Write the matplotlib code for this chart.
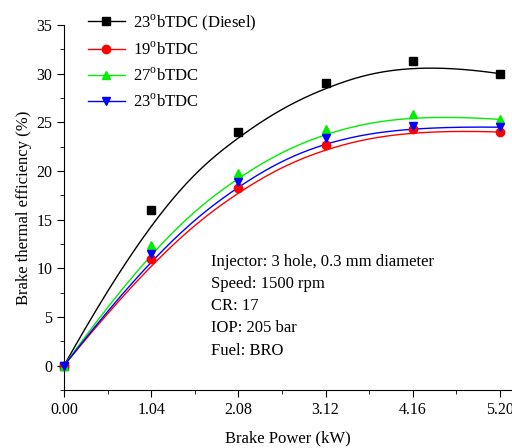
import numpy as np
import matplotlib
matplotlib.use("Agg")
import matplotlib.pyplot as plt
from matplotlib.ticker import MultipleLocator

plt.rcParams['font.family'] = 'Liberation Serif'
plt.rcParams['mathtext.fontset'] = 'custom'
plt.rcParams['mathtext.rm'] = 'Liberation Serif'

# data
power = [0.00, 1.04, 2.08, 3.12, 4.16, 5.20]
diesel = [0.0, 16.0, 24.0, 29.0, 31.3, 30.0]
bt19 = [0.0, 11.0, 18.3, 22.7, 24.3, 24.0]
bt27 = [0.0, 12.4, 19.8, 24.3, 25.9, 25.3]
bt23 = [0.0, 11.5, 18.9, 23.4, 24.6, 24.5]

labels = ['23$^{\\rm o}$bTDC (Diesel)', '19$^{\\rm o}$bTDC',
          '27$^{\\rm o}$bTDC', '23$^{\\rm o}$bTDC']
colors = ['black', '#ff0000', '#00ee00', '#0000ff']
markers = ['s', 'o', '^', 'v']
series = [diesel, bt19, bt27, bt23]


def bspline(px, py, n=200, k=3):
    # clamped B-spline using the data points as control points (Origin style)
    P = np.column_stack([px, py])
    m = len(P)
    inner = np.linspace(0, 1, m - k + 1)
    t = np.concatenate([np.zeros(k), inner, np.ones(k)])
    u = np.linspace(0, 1 - 1e-9, n)

    def basis(i, d, u):
        if d == 0:
            return ((t[i] <= u) & (u < t[i + 1])).astype(float)
        out = np.zeros_like(u)
        if t[i + d] > t[i]:
            out += (u - t[i]) / (t[i + d] - t[i]) * basis(i, d - 1, u)
        if t[i + d + 1] > t[i + 1]:
            out += (t[i + d + 1] - u) / (t[i + d + 1] - t[i + 1]) * basis(i + 1, d - 1, u)
        return out

    C = sum(basis(i, k, u)[:, None] * P[i] for i in range(m))
    C = np.vstack([C, P[-1]])
    return C[:, 0], C[:, 1]


fig = plt.figure(figsize=(5.12, 4.48), dpi=100)
ax = fig.add_axes([0.125, 0.1295, 0.875, 0.8147])

for y, lab, c, m in zip(series, labels, colors, markers):
    cx, cy = bspline(power, y)
    ax.plot(cx, cy, color=c, lw=1, clip_on=False)
    ax.plot(power, y, linestyle='none', marker=m, color=c, ms=6, clip_on=False, zorder=3)
    # legend proxy
    ax.plot([], [], color=c, lw=1, marker=m, ms=6, label=lab)

ax.set_xlim(0, 5.345)
ax.set_ylim(-2.5, 35)
ax.set_xticks(power)
ax.set_xticklabels(['%.2f' % p for p in power])
ax.xaxis.set_minor_locator(MultipleLocator(0.52))
ax.yaxis.set_major_locator(MultipleLocator(5))
ax.yaxis.set_minor_locator(MultipleLocator(2.5))
ax.spines['top'].set_visible(False)
ax.spines['right'].set_visible(False)
ax.tick_params(which='both', direction='out', labelsize=11.5)
ax.tick_params(which='major', length=5)
ax.tick_params(which='minor', length=3)

ax.set_xlabel('Brake Power (kW)', fontsize=12, labelpad=9)
ax.set_ylabel('Brake thermal efficiency (%)', fontsize=12, labelpad=3)

ax.legend(loc='upper left', bbox_to_anchor=(0.02, 1.075), frameon=False,
          fontsize=12, handlelength=2.2, labelspacing=0.5, handletextpad=0.5)

ax.text(1.75, 11.5, 'Injector: 3 hole, 0.3 mm diameter\nSpeed: 1500 rpm\nCR: 17\nIOP: 205 bar\nFuel: BRO',
        fontsize=12, va='top', ha='left', linespacing=1.52)

fig.savefig('out.png', dpi=100)
